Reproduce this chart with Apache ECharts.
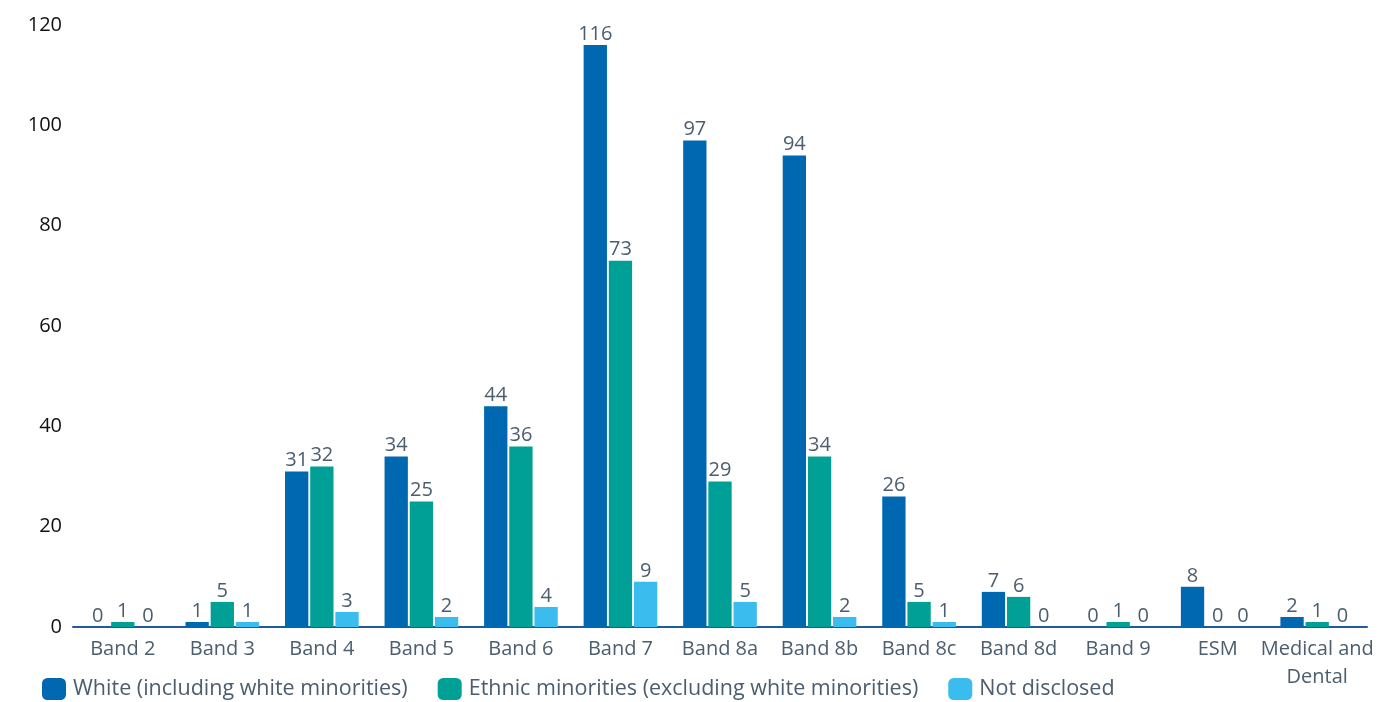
<!DOCTYPE html>
<html>
<head>
<meta charset="utf-8">
<script src="https://cdn.jsdelivr.net/npm/echarts@6/dist/echarts.min.js"></script>
<style>
  html, body { margin: 0; padding: 0; background: #fff; }
  #chart { width: 1379px; height: 702px; }
</style>
</head>
<body>
<div id="chart"></div>
<script>
// Staff headcount by pay band and ethnicity
const categories = ['Band 2', 'Band 3', 'Band 4', 'Band 5', 'Band 6', 'Band 7', 'Band 8a', 'Band 8b', 'Band 8c', 'Band 8d', 'Band 9', 'ESM', 'Medical and\nDental'];
const white = [0, 1, 31, 34, 44, 116, 97, 94, 26, 7, 0, 8, 2];
const ethnicMinorities = [1, 5, 32, 25, 36, 73, 29, 34, 5, 6, 1, 0, 1];
const notDisclosed = [0, 1, 3, 2, 4, 9, 5, 2, 1, 0, 0, 0, 0];
const seriesNames = ['White (including white minorities)', 'Ethnic minorities (excluding white minorities)', 'Not disclosed'];
const yTicks = { min: 0, max: 120, interval: 20 };

const FONT = '"Open Sans", "Noto Sans", sans-serif';
const TEXT = '#4b5d6e';
const colors = ['#0067b1', '#00a096', '#3bbcee'];

const chart = echarts.init(document.getElementById('chart'));

function barSeries(name, data, color) {
  return {
    name, type: 'bar', data,
    barGap: '8%', barCategoryGap: '26%',
    itemStyle: { color },
    label: {
      show: true, position: 'top', distance: 1,
      color: TEXT, fontFamily: FONT, fontSize: 20
    }
  };
}

chart.setOption({
  animation: false,
  grid: { left: 73, right: 12, top: 25, bottom: 75, containLabel: false },
  legend: {
    top: 673, left: 37,
    itemWidth: 24, itemHeight: 22, itemGap: 30,
    icon: 'roundRect',
    textStyle: { color: TEXT, fontFamily: FONT, fontSize: 21.5, padding: [0, 0, 0, 2] },
    data: seriesNames
  },
  xAxis: {
    type: 'category', data: categories,
    axisLine: { lineStyle: { color: '#1f5aa0', width: 2 } },
    axisTick: { show: false },
    axisLabel: { color: TEXT, fontFamily: FONT, fontSize: 20, margin: 8, lineHeight: 28, interval: 0 }
  },
  yAxis: {
    type: 'value', min: yTicks.min, max: yTicks.max, interval: yTicks.interval,
    splitLine: { show: false },
    axisLine: { show: false },
    axisTick: { show: false },
    axisLabel: { color: '#111', fontFamily: FONT, fontSize: 20, margin: 11 }
  },
  series: [
    barSeries(seriesNames[0], white, colors[0]),
    barSeries(seriesNames[1], ethnicMinorities, colors[1]),
    barSeries(seriesNames[2], notDisclosed, colors[2])
  ]
});
</script>
</body>
</html>
